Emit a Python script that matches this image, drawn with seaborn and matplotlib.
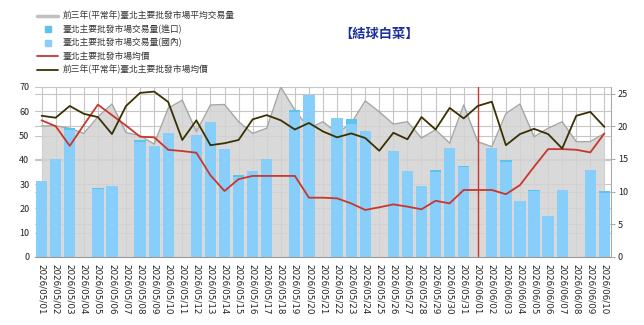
import numpy as np
import pandas as pd
import matplotlib
matplotlib.use("Agg")
import matplotlib.pyplot as plt
from matplotlib.lines import Line2D
import seaborn as sns

# ---------------- data ----------------
dates = ([f"2026/05/{d:02d}" for d in range(1, 32)] +
         [f"2026/06/{d:02d}" for d in range(1, 11)])

avg_volume_3y = [54, 54, 53, 50.9, 57.7, 63, 51.2, 50, 46.5, 61.3, 64.6, 51.6, 62.6, 62.8,
                 55.7, 50.9, 53, 70, 60.5, 53, 55.7, 51, 55, 64.3, 59.8, 54.7, 55.7, 49,
                 52.4, 46.9, 62.6, 47.5, 45.4, 59.1, 63, 49.5, 53, 55.7, 47.5, 47.5, 50.9]

volume_domestic = [31.5, 40.3, 52.3, 0, 28.1, 29.3, 0, 47.5, 45.8, 50.9, 0, 50.1, 55.7, 44.4,
                   33.0, 35.5, 40.2, 0, 59.8, 66.7, 0, 57.1, 54.6, 52.0, 0, 43.6, 35.5, 29.2,
                   35.2, 44.7, 37.0, 0, 44.7, 39.3, 23.2, 27.0, 17.0, 27.6, 0, 35.8, 26.3]

volume_import = [0, 0, 0.9, 0, 0.4, 0, 0, 0.6, 0, 0, 0, 0, 0, 0,
                 0.7, 0, 0, 0, 0.7, 0, 0, 0, 2.2, 0, 0, 0, 0, 0,
                 0.6, 0, 0.6, 0, 0, 0.6, 0, 0.6, 0, 0, 0, 0, 1.0]

price = [20.9, 20.0, 17.0, 20.2, 23.3, 21.7, 20.1, 18.4, 18.3, 16.4, 16.2, 15.95, 12.5, 10.1,
         11.9, 12.4, 12.4, 12.4, 12.4, 9.07, 9.07, 8.97, 8.2, 7.2, 7.6, 8.05, 7.7, 7.3,
         8.6, 8.2, 10.25, 10.25, 10.25, 9.6, 11.0, 13.8, 16.5, 16.5, 16.4, 16.0, 18.9]

price_3y = [21.6, 21.3, 23.1, 21.9, 21.4, 18.8, 23.1, 25.1, 25.3, 23.7, 17.9, 20.9, 17.1, 17.4,
            17.9, 21.05, 21.7, 20.9, 19.5, 20.5, 19.2, 18.3, 18.9, 18.2, 16.25, 19.0, 18.0, 21.4,
            19.5, 22.8, 21.2, 23.1, 23.75, 17.1, 18.8, 19.6, 18.8, 16.6, 21.6, 22.2, 19.9]

marker_date = "2026/06/01"
title = "【結球白菜】"
legend_labels = ["前三年(平常年)臺北主要批發市場平均交易量",
                 "臺北主要批發市場交易量(進口)",
                 "臺北主要批發市場交易量(國內)",
                 "臺北主要批發市場均價",
                 "前三年(平常年)臺北主要批發市場均價"]

# ---------------- style ----------------
sns.set_theme(style="white")
plt.rcParams['font.family'] = ['Noto Sans CJK TC', 'DejaVu Sans']

C_GRAY_FILL = "#d3d3d3"
C_GRAY_EDGE = "#a6a6a6"
C_IMPORT = "#5cc2ee"
C_DOMESTIC = "#87cefa"
C_RED = "#c8372d"
C_OLIVE = "#3a3000"
C_GRID = "#c6c6c6"

df = pd.DataFrame({"idx": np.arange(len(dates)), "date": dates,
                   "avg3y": avg_volume_3y, "dom": volume_domestic,
                   "imp": volume_import, "price": price, "price3y": price_3y})
df["total"] = df["dom"] + df["imp"]

fig = plt.figure(figsize=(6.44, 3.25), dpi=100)
ax = fig.add_axes([35/644, 1 - 257/325, 576/644, 170/325])

LMAX, RMAX = 70, 26

# gridlines (manual, below bars)
for i in df["idx"]:
    ax.axvline(i, color=C_GRID, lw=0.8, zorder=0.5)
for v in range(10, 71, 10):
    ax.axhline(v, color=C_GRID, lw=0.8, zorder=0.5)
for r in range(5, 26, 5):
    ax.axhline(r * LMAX / RMAX, color=C_GRID, lw=0.8, zorder=0.5)

# gray area
ax.fill_between(df["idx"], df["avg3y"], color=C_GRAY_FILL, alpha=0.85, lw=0, zorder=1)
sns.lineplot(data=df, x="idx", y="avg3y", ax=ax, color=C_GRAY_EDGE, lw=1.0, zorder=1.2)

# stacked bars: import on top of domestic
sns.barplot(data=df, x="idx", y="total", ax=ax, color=C_IMPORT, saturation=1,
            width=0.8, errorbar=None, zorder=2, linewidth=0)
sns.barplot(data=df, x="idx", y="dom", ax=ax, color=C_DOMESTIC, saturation=1,
            width=0.8, errorbar=None, zorder=2.1, linewidth=0)

ax.axvline(dates.index(marker_date), color=C_RED, lw=1.0, zorder=2.5)

ax.set_xlim(-0.47, len(dates) - 0.53)
ax.set_ylim(0, LMAX)
ax.set_yticks(range(0, 71, 10))
ax.set_xticks(df["idx"])
ax.set_xticklabels(dates, rotation=270, fontsize=6.3, family='DejaVu Sans', color="#222222")
ax.tick_params(axis='y', labelsize=6.5, colors="#222222", length=0, pad=4)
ax.tick_params(axis='x', length=2, pad=3, color="#999999")
ax.set_xlabel("")
ax.set_ylabel("")
for s in ["top", "left", "right"]:
    ax.spines[s].set_visible(False)
ax.spines["bottom"].set_color("#999999")
ax.spines["bottom"].set_linewidth(0.8)

# right axis: prices
ax2 = ax.twinx()
sns.lineplot(data=df, x="idx", y="price", ax=ax2, color=C_RED, lw=1.3, zorder=3)
sns.lineplot(data=df, x="idx", y="price3y", ax=ax2, color=C_OLIVE, lw=1.3, zorder=3)
ax2.set_ylim(0, RMAX)
ax2.set_yticks(range(0, 26, 5))
ax2.set_ylabel("")
ax2.set_xlim(ax.get_xlim())
ax2.tick_params(axis='y', labelsize=6.5, colors="#222222", length=3, width=0.6, pad=2)
ax2.tick_params(axis='y', color="#999999")
for s in ["top", "left", "bottom"]:
    ax2.spines[s].set_visible(False)
ax2.spines["right"].set_color("#aaaaaa")
ax2.spines["right"].set_linewidth(0.8)
ax2.grid(False)

# legend
handles = [Line2D([], [], color="#c0c0c0", lw=2.5),
           Line2D([], [], color=C_IMPORT, marker='s', ls='none', markersize=5),
           Line2D([], [], color=C_DOMESTIC, marker='s', ls='none', markersize=5),
           Line2D([], [], color=C_RED, lw=1.3),
           Line2D([], [], color=C_OLIVE, lw=1.3)]
fig.legend(handles, legend_labels, loc="upper left", bbox_to_anchor=(37/644, 1 - 11/325),
           frameon=False, fontsize=6.3, handlelength=2.4, handletextpad=0.5,
           labelspacing=0.48, borderpad=0, borderaxespad=0, labelcolor="#333333")

fig.text(379/644, 1 - 34/325, title, ha="center", va="center", fontsize=9.5,
         fontweight="bold", color="#1c2f9c")

fig.savefig("out.png", dpi=100)
